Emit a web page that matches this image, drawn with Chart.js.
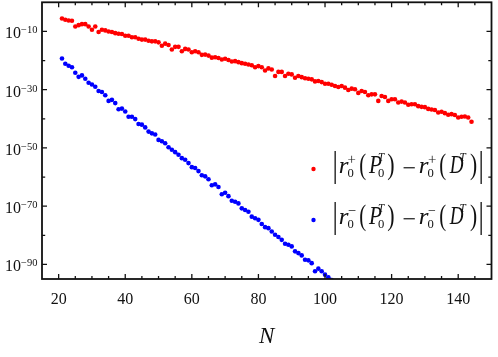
<!DOCTYPE html>
<html><head><meta charset="utf-8">
<script src="https://cdn.jsdelivr.net/npm/chart.js@4.4.0/dist/chart.umd.min.js"></script>
<style>html,body{margin:0;padding:0;background:#fff}#wrap{width:498px;height:357px;position:relative}</style>
</head><body><div id="wrap"><canvas id="c"></canvas></div>
<script>
// ---- data (log10 of the plotted quantity) ----
const redN=[21,22,23,24,25,26,27,28,29,30,31,32,33,34,35,36,37,38,39,40,41,42,43,44,45,46,47,48,49,50,51,52,53,54,55,56,57,58,59,60,61,62,63,64,65,66,67,68,69,70,71,72,73,74,75,76,77,78,79,80,81,82,83,84,85,86,87,88,89,90,91,92,93,94,95,96,97,98,99,100,101,102,103,104,105,106,107,108,109,110,111,112,113,114,115,116,117,118,119,120,121,122,123,124,125,126,127,128,129,130,131,132,133,134,135,136,137,138,139,140,141,142,143,144];
const redExp=[-5.57,-6.0,-6.25,-6.35,-8.3,-7.85,-7.5,-7.5,-8.3,-9.4,-8.3,-10.2,-9.4,-9.65,-10.0,-10.2,-10.6,-10.8,-10.9,-11.5,-11.5,-12.0,-12.0,-12.5,-12.8,-12.8,-13.2,-13.4,-13.4,-13.75,-14.9,-14.2,-14.65,-16.2,-15.3,-15.3,-16.8,-16.0,-16.2,-17.15,-16.8,-17.15,-18.05,-17.95,-18.3,-19.0,-18.85,-19.1,-19.65,-19.4,-19.8,-20.3,-20.2,-20.55,-20.9,-21.1,-21.35,-21.6,-22.3,-21.9,-22.3,-23.4,-22.7,-23.05,-25.3,-23.9,-23.9,-25.3,-24.55,-24.75,-25.9,-25.3,-25.7,-26.1,-26.25,-26.45,-27.15,-27.0,-27.4,-27.95,-27.95,-28.3,-28.75,-29.1,-28.75,-29.3,-30.1,-29.65,-29.85,-31.1,-30.45,-30.8,-31.9,-31.6,-31.6,-33.85,-32.15,-32.5,-33.85,-33.3,-33.3,-34.4,-34.1,-34.4,-35.2,-35.0,-35.0,-35.65,-35.9,-36.0,-36.6,-36.8,-37.0,-37.85,-37.6,-38.05,-38.6,-38.4,-38.7,-39.55,-39.3,-39.2,-39.55,-41.0];
const blueN=[21,22,23,24,25,26,27,28,29,30,31,32,33,34,35,36,37,38,39,40,41,42,43,44,45,46,47,48,49,50,51,52,53,54,55,56,57,58,59,60,61,62,63,64,65,66,67,68,69,70,71,72,73,74,75,76,77,78,79,80,81,82,83,84,85,86,87,88,89,90,91,92,93,94,95,96,97,98,99,100,101,102];
const blueExp=[-19.3,-21.1,-21.8,-22.3,-24.2,-25.6,-25.1,-26.25,-27.6,-28.2,-29.0,-30.45,-30.8,-31.9,-33.85,-33.5,-34.6,-36.7,-36.5,-37.5,-39.3,-39.3,-40.1,-41.8,-42.0,-42.95,-44.4,-45.0,-45.4,-47.25,-47.7,-48.4,-49.75,-50.65,-51.45,-52.35,-53.5,-54.05,-55.2,-56.6,-56.9,-57.95,-59.4,-59.75,-60.75,-62.8,-62.5,-63.4,-65.9,-65.4,-66.55,-68.15,-68.5,-69.05,-70.75,-71.3,-71.9,-73.6,-74.15,-74.7,-76.1,-77.2,-77.55,-78.7,-79.8,-80.6,-81.55,-82.9,-83.25,-83.8,-85.5,-86.1,-86.9,-88.4,-88.6,-89.55,-92.35,-91.45,-92.35,-93.5,-94.4,-95.4];
const xMajorTicks=[20,40,60,80,100,120,140];
const xMinorTicks=[25,30,35,45,50,55,65,70,75,85,90,95,105,110,115,125,130,135,145];
const yMajorExp=[-10,-30,-50,-70,-90];
const yMinorExp=[-20,-40,-60,-80];
const xTitle='N';
const seriesSigns=['+','\u2212'];

const toPts=(ns,es)=>ns.map((n,i)=>({x:n,y:Math.pow(10,es[i])}));

const SERIF='"Liberation Serif", "DejaVu Serif", serif';

// draw a glyph so that its ink fits a box [l,t,r,b]
function fitText(ctx,t,italic,box,fit){
  const [l,tp,r,b]=box;
  const base=(italic?'italic ':'')+'100px '+SERIF;
  ctx.font=base;
  const m=ctx.measureText(t);
  const aL=m.actualBoundingBoxLeft, aR=m.actualBoundingBoxRight;
  const asc=m.actualBoundingBoxAscent, dsc=m.actualBoundingBoxDescent;
  const inkW=aL+aR, inkH=asc+dsc;
  let k, sx=1, top=tp;
  if(fit==='w'){
    k=(r-l)/inkW;
    top=(tp+b)/2-inkH*k/2;
  } else {
    k=(b-tp)/inkH;
    if(fit==='both') sx=(r-l)/(inkW*k);
  }
  ctx.save();
  ctx.translate(l,top);
  ctx.scale(sx,1);
  ctx.font=(italic?'italic ':'')+(100*k)+'px '+SERIF;
  ctx.textAlign='left';
  ctx.textBaseline='alphabetic';
  ctx.fillText(t,aL*k,asc*k);
  ctx.restore();
}

function drawMathLabel(ctx, sign, dy){
  const supBox = sign==='+' ? [344,156,351.7,163] : [344.3,159,351.3,160.3];
  const supBox2 = sign==='+' ? [424.3,156,431.7,163] : [424.6,159,431.3,160.3];
  const supFit = sign==='+' ? 'h' : 'w';
  const pieces=[
    ['|',false,[331.7,150.7,333.3,184],'both'],
    ['r',true,[335,162,344,173],'both'],
    ['0',false,[344.6,168.7,350,177.3],'h'],
    [sign,false,supBox,supFit],
    ['(',false,[356.7,153,362.3,181],'both'],
    ['P',true,[362.3,156,375,173],'both'],
    ['T',true,[375.5,153,381.7,160.7],'both'],
    ['0',false,[375.3,168.7,381,177.3],'h'],
    [')',false,[384.3,153,390,181],'both'],
    ['\u2212',false,[396.7,167.3,408.3,168.7],'w'],
    ['r',true,[415,162,424,173],'both'],
    ['0',false,[424.6,168.7,430,177.3],'h'],
    [sign,false,supBox2,supFit],
    ['(',false,[436.7,153,442.3,181],'both'],
    ['D',true,[442.6,156,456.5,173],'both'],
    ['T',true,[457,153,463.3,160.7],'both'],
    [')',false,[467,153,472.6,181],'both'],
    ['|',false,[477.7,150.7,479.3,184],'both']
  ];
  ctx.fillStyle='#111';
  for(const [t,it,bx,fit] of pieces){
    fitText(ctx,t,it,[bx[0],bx[1]+dy,bx[2],bx[3]+dy],fit);
  }
}

const framePlugin={
  id:'frame',
  afterDatasetsDraw(chart){
    const {ctx,chartArea:a,scales}=chart;
    const xs=scales.x, ys=scales.y;
    ctx.save();
    ctx.strokeStyle='#111';
    ctx.lineWidth=1.8;
    ctx.strokeRect(a.left,a.top,a.right-a.left,a.bottom-a.top);
    ctx.lineWidth=1.3;
    ctx.beginPath();
    const xt=(v,len)=>{const px=xs.getPixelForValue(v);
      ctx.moveTo(px,a.bottom);ctx.lineTo(px,a.bottom-len);
      ctx.moveTo(px,a.top);ctx.lineTo(px,a.top+len);};
    const yt=(e,len)=>{const py=ys.getPixelForValue(Math.pow(10,e));
      ctx.moveTo(a.left,py);ctx.lineTo(a.left+len,py);
      ctx.moveTo(a.right,py);ctx.lineTo(a.right-len,py);};
    xMajorTicks.forEach(v=>xt(v,5));
    xMinorTicks.forEach(v=>xt(v,3));
    yMajorExp.forEach(e=>yt(e,5));
    yMinorExp.forEach(e=>yt(e,3.2));
    ctx.stroke();

    // x tick labels
    ctx.fillStyle='#111';
    ctx.font='16px '+SERIF;
    ctx.textAlign='center';
    ctx.textBaseline='alphabetic';
    xMajorTicks.forEach(v=>ctx.fillText(String(v),xs.getPixelForValue(v),304));
    // y tick labels 10^e
    yMajorExp.forEach(e=>{
      const py=ys.getPixelForValue(Math.pow(10,e));
      const sup=String(e).replace('-','\u2212');
      ctx.font='10.5px '+SERIF;
      const ws=ctx.measureText(sup).width;
      ctx.textAlign='right';
      ctx.fillText(sup,37.5,py+2);
      ctx.font='16px '+SERIF;
      ctx.fillText('10',37.5-ws,py+7);
    });
    // x title
    ctx.font='italic 23px '+SERIF;
    ctx.textAlign='center';
    ctx.fillText(xTitle,(a.left+a.right)/2,343);

    // legend
    const colors=['#ff0000','#0000ff'];
    const offs=[0,51];
    for(let i=0;i<2;i++){
      ctx.fillStyle=colors[i];
      ctx.beginPath();
      ctx.arc(313.5,169+offs[i],2.2,0,Math.PI*2);
      ctx.fill();
      drawMathLabel(ctx,seriesSigns[i],offs[i]);
    }
    ctx.restore();
  }
};

new Chart(document.getElementById('c'),{
  type:'scatter',
  data:{datasets:[
    {label:'r0+',data:toPts(redN,redExp),backgroundColor:'#ff0000',borderWidth:0,pointRadius:2.3,pointHoverRadius:2.3},
    {label:'r0-',data:toPts(blueN,blueExp),backgroundColor:'#0000ff',borderWidth:0,pointRadius:2.3,pointHoverRadius:2.3}
  ]},
  options:{
    responsive:true,maintainAspectRatio:false,animation:false,devicePixelRatio:1,
    layout:{padding:{left:42,top:1,right:6.5,bottom:78}},
    scales:{
      x:{type:'linear',min:15,max:150,display:false},
      y:{type:'logarithmic',min:1e-95,max:1,display:false}
    },
    plugins:{legend:{display:false},tooltip:{enabled:false}}
  },
  plugins:[framePlugin]
});
</script></body></html>
